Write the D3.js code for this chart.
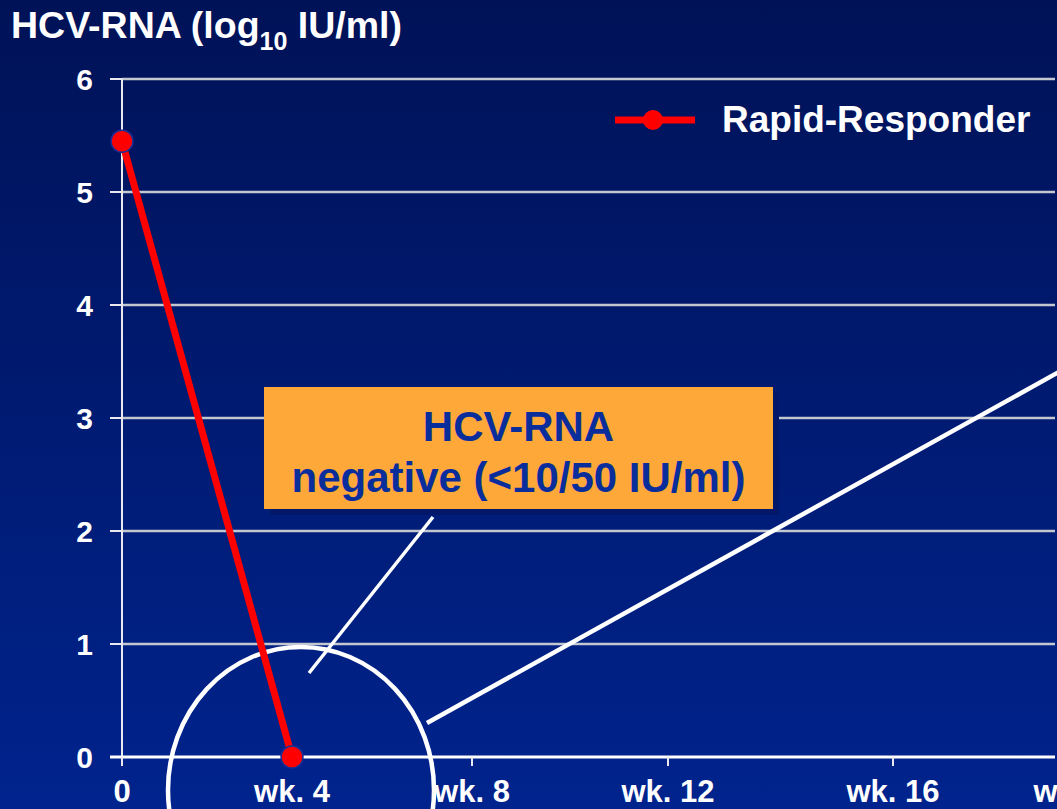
<!DOCTYPE html>
<html>
<head>
<meta charset="utf-8">
<script src="https://cdn.jsdelivr.net/npm/d3@7"></script>
<style>
  html, body { margin: 0; padding: 0; background: #001257; overflow: hidden; }
  text { font-family: "Liberation Sans", Arial, sans-serif; font-weight: bold; }
</style>
</head>
<body>
<div id="chart"></div>
<script>
// data
const weeks = [0, 4];
const hcvRna = [5.45, 0];
const yTicks = [0, 1, 2, 3, 4, 5, 6];
const xTicks = [0, 4, 8, 12, 16, 20];
const xTickLabels = ["0", "wk. 4", "wk. 8", "wk. 12", "wk. 16", "wk. 20"];
const seriesName = "Rapid-Responder";
const boxLines = ["HCV-RNA", "negative (<10/50 IU/ml)"];

const width = 1057, height = 809;

const svg = d3.select("#chart").append("svg")
  .attr("width", width)
  .attr("height", height);

// background gradient
const grad = svg.append("defs").append("linearGradient")
  .attr("id", "bg")
  .attr("x1", 0).attr("y1", 0).attr("x2", 0).attr("y2", 1);
grad.append("stop").attr("offset", "0%").attr("stop-color", "#001257");
grad.append("stop").attr("offset", "100%").attr("stop-color", "#00238d");
svg.append("rect").attr("width", width).attr("height", height).attr("fill", "url(#bg)");

// scales (the slide's week ticks are not evenly spaced)
const x = d3.scaleLinear()
  .domain(xTicks)
  .range([122, 292, 472, 668, 893, 1080]);
const y = d3.scaleLinear()
  .domain([0, 6])
  .range([757, 79]);

const right = 1055;

// gridlines
svg.append("g").selectAll("line")
  .data(yTicks.filter(d => d > 0))
  .enter().append("line")
  .attr("x1", x(0)).attr("x2", right)
  .attr("y1", d => y(d)).attr("y2", d => y(d))
  .attr("stroke", "#c3c7d0")
  .attr("stroke-width", 2.5);

// y axis
svg.append("line")
  .attr("x1", x(0)).attr("x2", x(0))
  .attr("y1", y(6)).attr("y2", y(0) + 9)
  .attr("stroke", "#e8e8ee").attr("stroke-width", 2);

svg.append("g").selectAll("line")
  .data(yTicks)
  .enter().append("line")
  .attr("x1", x(0) - 12).attr("x2", x(0))
  .attr("y1", d => y(d)).attr("y2", d => y(d))
  .attr("stroke", "#e8e8ee").attr("stroke-width", 2);

svg.append("g").selectAll("text")
  .data(yTicks)
  .enter().append("text")
  .attr("x", 93)
  .attr("y", d => y(d))
  .attr("dy", "0.36em")
  .attr("text-anchor", "end")
  .attr("fill", "#ffffff")
  .style("font-size", "30px")
  .text(d => d);

// x axis
svg.append("line")
  .attr("x1", x(0) - 12).attr("x2", right)
  .attr("y1", y(0)).attr("y2", y(0))
  .attr("stroke", "#ffffff").attr("stroke-width", 3);

svg.append("g").selectAll("line")
  .data(xTicks)
  .enter().append("line")
  .attr("x1", d => x(d)).attr("x2", d => x(d))
  .attr("y1", y(0)).attr("y2", y(0) + 9)
  .attr("stroke", "#e8e8ee").attr("stroke-width", 2);

svg.append("g").selectAll("text")
  .data(xTicks)
  .enter().append("text")
  .attr("x", d => x(d))
  .attr("y", 802)
  .attr("text-anchor", "middle")
  .attr("fill", "#ffffff")
  .style("font-size", "31px")
  .text((d, i) => xTickLabels[i]);

// title
const title = svg.append("text")
  .attr("x", 11).attr("y", 38)
  .attr("fill", "#ffffff")
  .style("font-size", "37.5px");
title.append("tspan").text("HCV-RNA (log");
title.append("tspan").attr("dy", 12).style("font-size", "25px").text("10");
title.append("tspan").attr("dy", -12).text(" IU/ml)");

// annotation box
const box = { x: 264, y: 387, w: 509, h: 122 };
svg.append("rect")
  .attr("x", box.x + 6).attr("y", box.y + 6)
  .attr("width", box.w).attr("height", box.h)
  .attr("fill", "#00176a");
svg.append("rect")
  .attr("x", box.x).attr("y", box.y)
  .attr("width", box.w).attr("height", box.h)
  .attr("fill", "#ffa83a");
svg.append("g").selectAll("text")
  .data(boxLines)
  .enter().append("text")
  .attr("x", box.x + box.w / 2)
  .attr("y", (d, i) => 441 + i * 51)
  .attr("text-anchor", "middle")
  .attr("fill", "#0a2d9c")
  .style("font-size", "42px")
  .text(d => d);

// callout lines and ellipse around week 4
const cx = x(4) + 9, cy = y(0) + 33;
svg.append("line")
  .attr("x1", 433).attr("y1", box.y + box.h + 8)
  .attr("x2", 309).attr("y2", 673)
  .attr("stroke", "#ffffff").attr("stroke-width", 3.5);
svg.append("line")
  .attr("x1", 427).attr("y1", 723)
  .attr("x2", 1065).attr("y2", 368.6)
  .attr("stroke", "#ffffff").attr("stroke-width", 4.5);
svg.append("ellipse")
  .attr("cx", cx).attr("cy", cy)
  .attr("rx", 133).attr("ry", 143)
  .attr("fill", "none")
  .attr("stroke", "#ffffff").attr("stroke-width", 4.5);

// series
const line = d3.line()
  .x((d, i) => x(weeks[i]))
  .y(d => y(d));
svg.append("path")
  .datum(hcvRna)
  .attr("d", line)
  .attr("fill", "none")
  .attr("stroke", "#ff0000")
  .attr("stroke-width", 7);
svg.append("g").selectAll("circle")
  .data(hcvRna)
  .enter().append("circle")
  .attr("cx", (d, i) => x(weeks[i]))
  .attr("cy", d => y(d))
  .attr("r", 11)
  .attr("fill", "#ff0000")
  .attr("stroke", "#1a2e96")
  .attr("stroke-width", 1.5);

// legend
const legend = svg.append("g").attr("transform", "translate(615,120)");
legend.append("line")
  .attr("x1", 0).attr("x2", 80)
  .attr("stroke", "#ff0000").attr("stroke-width", 7);
legend.append("circle")
  .attr("cx", 38).attr("r", 10)
  .attr("fill", "#ff0000");
legend.append("text")
  .attr("x", 107).attr("y", 12)
  .attr("fill", "#ffffff")
  .style("font-size", "37px")
  .text(seriesName);
</script>
</body>
</html>
